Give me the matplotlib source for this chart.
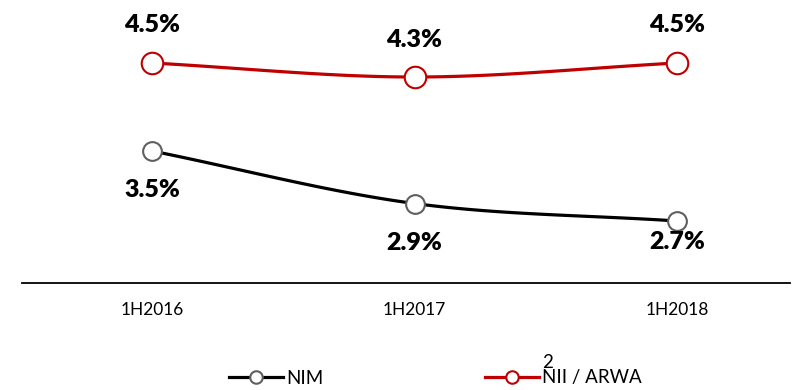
import numpy as np
import matplotlib.pyplot as plt

plt.rcParams['font.family'] = ['Lato', 'DejaVu Sans']

periods = ['1H2016', '1H2017', '1H2018']
nim = [3.5, 2.9, 2.7]
nii_arwa = [4.5, 4.3, 4.5]

# label offsets in pixels (dy) relative to each marker
nim_label_dy = [-39, -39, -21]
nii_label_dy = [38, 37, 38]


def smooth(xs, ys, n=60):
    # Catmull-Rom curve through the points, like a spreadsheet "smoothed line"
    xs = np.asarray(xs, float)
    ys = np.asarray(ys, float)
    px = np.concatenate([[2 * xs[0] - xs[1]], xs, [2 * xs[-1] - xs[-2]]])
    py = np.concatenate([[2 * ys[0] - ys[1]], ys, [2 * ys[-1] - ys[-2]]])
    out_x, out_y = [], []
    for i in range(1, len(px) - 2):
        t = np.linspace(0, 1, n)
        for arr, out in ((px, out_x), (py, out_y)):
            p0, p1, p2, p3 = arr[i - 1], arr[i], arr[i + 1], arr[i + 2]
            out.extend(0.5 * ((2 * p1) + (-p0 + p2) * t
                              + (2 * p0 - 5 * p1 + 4 * p2 - p3) * t ** 2
                              + (-p0 + 3 * p1 - 3 * p2 + p3) * t ** 3))
    return np.array(out_x), np.array(out_y)


fig = plt.figure(figsize=(7.98, 3.9), dpi=100)
ax = fig.add_axes([22 / 798, 107 / 390, 768 / 798, 283 / 390])
ax2 = ax.twinx()

x = np.arange(len(periods))
red = '#C00000'

sx, sy = smooth(x, nim)
ax.plot(sx, sy, color='black', lw=2.3, solid_capstyle='round', zorder=2)
ax.plot(x, nim, 'o', ms=13.5, mfc='white', mec='#5f5f5f', mew=1.5, zorder=3)

sx, sy = smooth(x, nii_arwa)
ax2.plot(sx, sy, color=red, lw=2.3, solid_capstyle='round', zorder=2)
ax2.plot(x, nii_arwa, 'o', ms=15.5, mfc='white', mec=red, mew=1.5, zorder=3)

for xi, v, dy in zip(x, nim, nim_label_dy):
    ax.annotate(f'{v:.1f}%', (xi, v), xytext=(0, dy * 0.72), textcoords='offset points',
                ha='center', va='center', fontsize=18, fontweight='heavy')
for xi, v, dy in zip(x, nii_arwa, nii_label_dy):
    ax2.annotate(f'{v:.1f}%', (xi, v), xytext=(0, dy * 0.72), textcoords='offset points',
                 ha='center', va='center', fontsize=18, fontweight='heavy')

xl = (-130 / 262.5, 2 + 113 / 262.5)
ax.set_xlim(xl)
ax.set_ylim(3.5 - 132 / 87.5, 3.5 + 151 / 87.5)
ax2.set_ylim(4.5 - 220 / 70, 4.5 + 63 / 70)

for a in (ax, ax2):
    for s in ('top', 'right', 'left'):
        a.spines[s].set_visible(False)
    a.set_yticks([])
ax2.spines['bottom'].set_visible(False)
ax.spines['bottom'].set_linewidth(1.3)
ax.set_xticks(x)
ax.set_xticklabels(periods, fontsize=12.5)
ax.tick_params(axis='x', length=0, pad=14)

# legend along the bottom edge
h1, = ax.plot([], [], color='black', lw=2.3, marker='o', ms=9, mfc='white', mec='#5f5f5f', mew=1.5)
h2, = ax.plot([], [], color=red, lw=2.3, marker='o', ms=9, mfc='white', mec=red, mew=1.5)
fig.legend([h1, h2], ['NIM', 'NII / ARWA'], loc='center left', bbox_to_anchor=(212 / 798, 12 / 390),
           ncol=2, frameon=False, fontsize=13.5, handlelength=2.9, handletextpad=0.15,
           columnspacing=8.6)

fig.text(548 / 798, 1 - 362 / 390, '2', ha='center', va='center', fontsize=13.5)

fig.savefig('out.png', dpi=100)
